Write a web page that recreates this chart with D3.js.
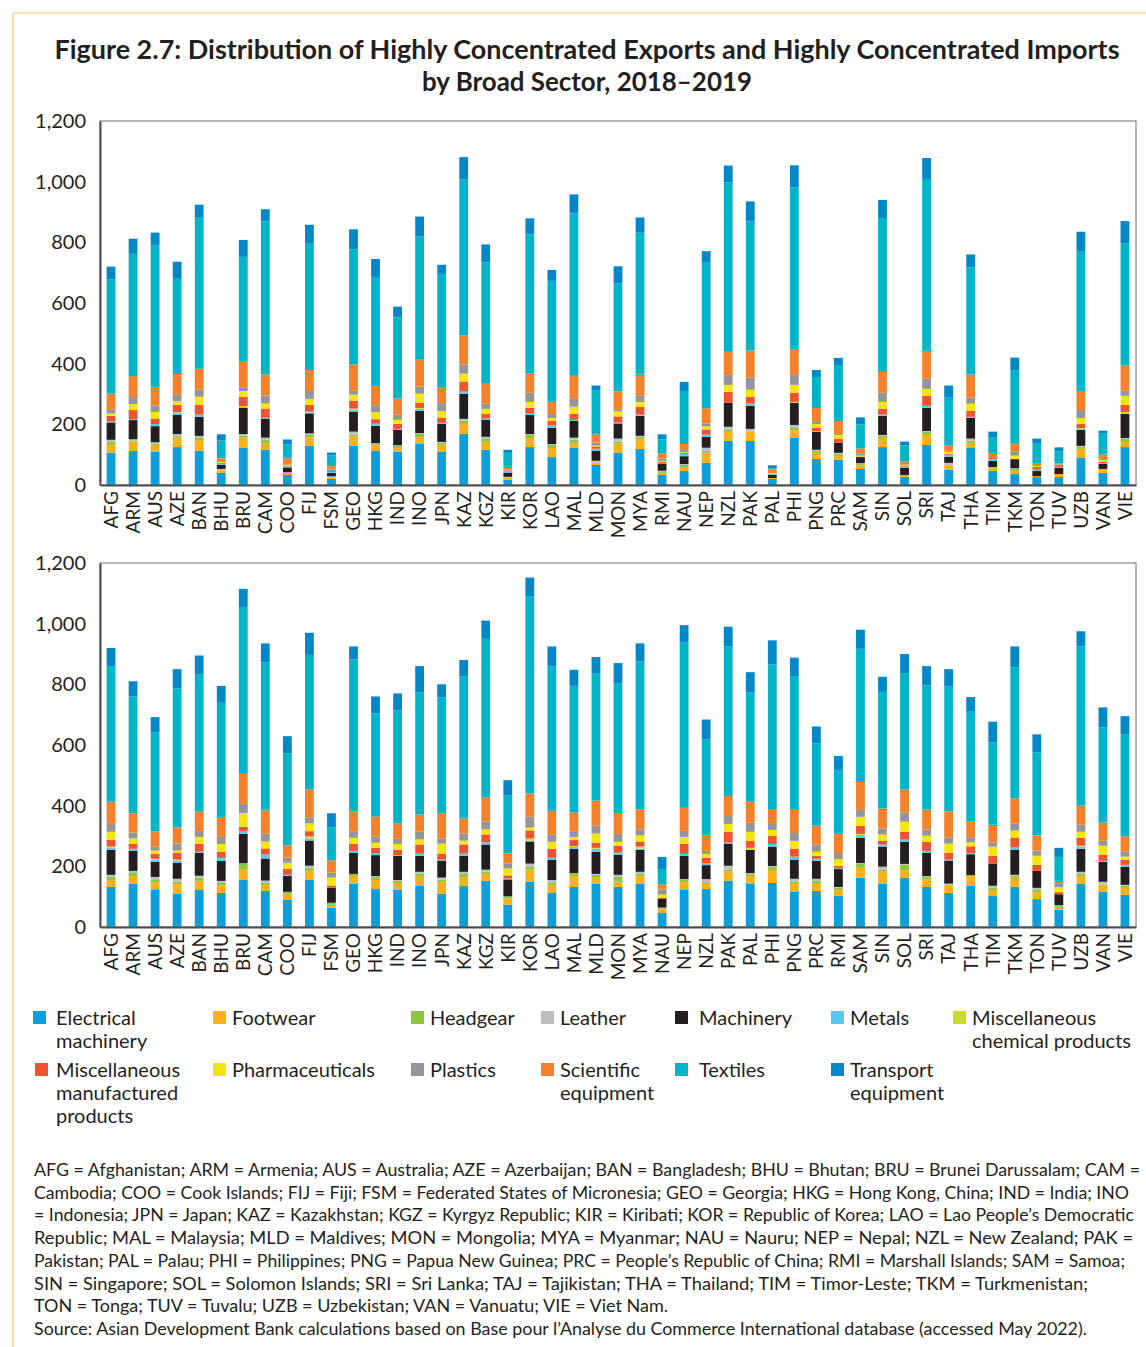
<!DOCTYPE html>
<html><head><meta charset="utf-8">
<script src="https://cdn.jsdelivr.net/npm/d3@7"></script>
<style>
body{margin:0;background:#fff}
svg{display:block}
text{font-family:Lato,"Open Sans",sans-serif;fill:#231f20}
</style>
</head><body>
<svg id="chart" width="1146" height="1347"></svg>
<script>
// ---------------- DATA ----------------
const sectors = ["Electrical machinery","Footwear","Headgear","Leather","Machinery","Metals",
  "Miscellaneous chemical products","Miscellaneous manufactured products","Pharmaceuticals",
  "Plastics","Scientific equipment","Textiles","Transport equipment"];
const sectorColors = ["#0b9ed9","#fbb21a","#8dc63f","#bcbec0","#231f20","#5ac8ee","#cbdb2a",
  "#ee5430","#f3e60c","#939598","#f5822a","#00b5c8","#0288c7"];
const yTicks = [0,200,400,600,800,1000,1200];

const topCategories = ["AFG","ARM","AUS","AZE","BAN","BHU","BRU","CAM","COO","FIJ","FSM","GEO","HKG","IND","INO","JPN","KAZ","KGZ","KIR","KOR","LAO","MAL","MLD","MON","MYA","RMI","NAU","NEP","NZL","PAK","PAL","PHI","PNG","PRC","SAM","SIN","SOL","SRI","TAJ","THA","TIM","TKM","TON","TUV","UZB","VAN","VIE"];
const bottomCategories = ["AFG","ARM","AUS","AZE","BAN","BHU","BRU","CAM","COO","FIJ","FSM","GEO","HKG","IND","INO","JPN","KAZ","KGZ","KIR","KOR","LAO","MAL","MLD","MON","MYA","NAU","NEP","NZL","PAK","PAL","PHI","PNG","PRC","RMI","SAM","SIN","SOL","SRI","TAJ","THA","TIM","TKM","TON","TUV","UZB","VAN","VIE"];

// Top panel (highly concentrated exports)
const topElectrical = [107,112,109,125,112,40,122,116,33,129,20,129,112,109,135,109,168,116,17,125,92,122,66,106,119,33,46,73,145,145,20,155,86,83,53,125,26,132,50,122,46,36,26,26,89,40,125];
const topFootwear   = [25,31,23,31,36,8,34,20,3,28,4,30,20,13,23,23,33,26,8,30,30,17,7,30,33,7,13,33,30,30,3,26,20,13,13,30,7,33,13,17,10,10,3,10,30,13,17];
const topHeadgear   = [10,3,5,5,7,2,7,13,4,9,2,7,3,7,11,7,10,10,2,10,10,10,0,7,7,5,7,7,7,0,0,7,7,7,3,7,0,10,0,7,0,7,0,0,7,0,10];
const topLeather    = [7,5,4,7,7,3,5,7,2,4,3,10,3,2,2,3,7,7,0,3,3,7,7,10,3,2,3,10,10,10,0,10,3,3,3,3,0,3,10,7,3,2,0,0,3,0,3];
const topMachinery  = [57,63,53,63,63,14,86,63,16,66,11,66,57,51,73,59,83,56,14,63,53,56,33,50,66,24,26,36,79,76,10,73,59,33,20,63,23,76,20,69,20,30,17,20,53,17,79];
const topMetals     = [3,3,7,7,7,3,3,3,3,4,3,7,7,3,7,4,7,4,7,4,8,3,7,3,4,2,7,7,0,7,3,0,3,0,0,4,3,7,7,3,7,0,7,2,3,3,0];
const topMiscChem   = [0,0,0,2,0,0,3,0,0,2,0,3,0,0,3,0,0,0,0,0,0,0,0,0,0,0,0,0,0,0,0,3,0,0,0,0,0,0,0,0,0,0,0,0,3,0,7];
const topMiscManuf  = [19,30,18,24,33,3,30,30,3,22,3,26,15,17,17,17,33,15,3,19,15,20,7,20,25,4,3,17,36,23,0,30,10,13,2,20,3,33,3,20,3,2,7,7,13,3,23];
const topPharma     = [8,20,22,13,26,3,20,17,2,20,0,20,23,13,30,22,26,17,0,20,10,23,3,17,17,3,3,10,23,23,3,26,13,13,3,22,3,23,7,23,0,10,3,0,20,7,30];
const topPlastics   = [14,23,21,20,23,0,10,26,2,26,5,13,23,17,23,26,30,17,0,30,13,26,10,7,20,7,7,10,33,40,0,33,7,3,7,30,2,33,3,20,0,13,0,3,26,0,17];
const topScientific = [51,69,62,69,69,12,89,69,20,69,11,86,63,53,89,53,96,66,9,63,40,76,26,59,69,17,20,50,76,89,13,83,46,43,17,69,10,92,17,76,17,26,10,3,63,17,83];
const topTextiles   = [376,403,465,314,498,59,343,505,46,419,35,380,360,267,406,373,515,400,46,459,399,535,145,356,469,46,175,482,558,426,3,535,102,182,79,507,53,567,158,353,50,241,63,40,459,69,403];
const topTransport  = [43,50,43,56,43,20,56,40,16,60,10,66,59,36,66,30,73,59,10,53,36,63,17,56,50,17,30,36,56,66,10,73,23,26,23,60,13,69,40,43,20,43,17,13,66,10,73];

// Bottom panel (highly concentrated imports)
const bottomElectrical = [132,142,122,109,122,112,155,119,89,155,63,142,125,122,135,109,135,152,74,149,112,132,142,132,142,46,122,125,152,142,145,116,119,102,162,142,162,132,112,135,102,132,92,56,142,116,106];
const bottomFootwear   = [23,26,26,33,30,26,36,20,20,30,10,26,30,23,33,40,30,23,20,40,26,36,20,20,26,13,26,20,30,26,43,26,23,20,33,40,26,26,26,33,20,30,23,10,26,23,23];
const bottomHeadgear   = [10,10,7,7,10,7,17,7,7,10,7,7,10,7,7,7,10,7,7,10,7,10,10,13,7,3,7,3,7,7,10,7,10,7,13,7,17,7,2,3,7,7,7,3,7,0,7];
const bottomLeather    = [7,7,10,10,7,7,2,7,0,7,0,0,3,3,7,7,7,7,0,10,10,0,3,7,7,2,3,10,13,3,3,10,7,3,3,10,3,3,3,0,7,3,7,3,7,10,3];
const bottomMachinery  = [83,66,50,53,76,66,97,73,53,83,50,69,69,79,53,56,53,83,56,73,66,79,73,66,73,30,76,46,73,76,63,63,59,59,83,66,73,76,76,69,73,83,56,36,76,66,59];
const bottomMetals     = [7,7,7,7,3,10,10,13,3,7,0,7,7,3,7,3,7,7,3,3,7,7,10,7,3,0,7,7,3,0,10,10,7,3,10,7,7,7,3,3,0,7,0,0,7,3,7];
const bottomMiscChem   = [3,0,3,3,0,0,0,0,0,7,0,0,0,0,0,0,0,0,0,7,0,3,3,0,7,0,0,0,0,7,0,0,0,0,3,0,0,0,0,0,0,0,0,0,3,0,0];
const bottomMiscManuf  = [23,17,17,23,26,20,13,20,20,17,7,23,17,17,30,20,30,26,10,26,30,20,17,23,17,3,33,17,36,23,26,26,10,7,26,13,26,30,23,23,26,33,20,7,26,20,17];
const bottomPharma     = [26,17,10,7,23,26,46,23,20,26,26,20,17,20,17,33,13,17,23,10,23,10,30,13,20,10,23,13,26,30,20,26,13,23,30,20,33,20,30,13,30,23,30,17,20,30,10];
const bottomPlastics   = [26,20,13,23,20,23,30,26,17,20,17,20,20,17,26,17,23,26,17,36,23,17,26,26,20,17,20,10,26,30,23,26,23,20,23,20,30,20,20,17,13,23,17,10,23,17,17];
const bottomScientific = [73,63,50,53,63,66,99,76,40,92,40,69,66,50,56,83,50,79,33,76,79,63,83,69,66,17,76,53,66,69,46,79,63,63,92,66,76,66,86,53,59,83,50,10,63,59,50];
const bottomTextiles   = [447,385,327,459,452,376,550,488,304,443,109,499,340,373,403,382,469,523,191,649,476,418,420,428,487,50,546,314,492,361,477,436,271,211,439,384,384,410,413,363,271,432,274,79,525,314,337];
const bottomTransport  = [60,50,50,63,63,56,60,63,56,73,46,43,56,56,86,43,53,60,50,63,66,53,53,66,60,40,56,66,66,66,79,63,56,46,63,50,63,63,56,46,69,69,59,30,50,66,59];

const titleLines = ["Figure 2.7: Distribution of Highly Concentrated Exports and Highly Concentrated Imports",
                    "by Broad Sector, 2018–2019"];
const noteLines = [
 "AFG = Afghanistan; ARM = Armenia; AUS = Australia; AZE = Azerbaijan; BAN = Bangladesh; BHU = Bhutan; BRU = Brunei Darussalam; CAM =",
 "Cambodia; COO = Cook Islands; FIJ = Fiji; FSM = Federated States of Micronesia; GEO = Georgia; HKG = Hong Kong, China; IND = India; INO",
 "= Indonesia; JPN = Japan; KAZ = Kazakhstan; KGZ = Kyrgyz Republic; KIR = Kiribati; KOR = Republic of Korea; LAO = Lao People’s Democratic",
 "Republic; MAL = Malaysia; MLD = Maldives; MON = Mongolia; MYA = Myanmar; NAU = Nauru; NEP = Nepal; NZL = New Zealand; PAK =",
 "Pakistan; PAL = Palau; PHI = Philippines; PNG = Papua New Guinea; PRC = People’s Republic of China; RMI = Marshall Islands; SAM = Samoa;",
 "SIN = Singapore; SOL = Solomon Islands; SRI = Sri Lanka; TAJ = Tajikistan; THA = Thailand; TIM = Timor-Leste; TKM = Turkmenistan;",
 "TON = Tonga; TUV = Tuvalu; UZB = Uzbekistan; VAN = Vanuatu; VIE = Viet Nam.",
 "Source: Asian Development Bank calculations based on Base pour l’Analyse du Commerce International database (accessed May 2022)."
];

// ---------------- DRAW ----------------
const svg = d3.select("#chart");
const W = 1146;

// outer frame lines
svg.append("line").attr("x1",13).attr("x2",W).attr("y1",13).attr("y2",13).attr("stroke","#f8c46a").attr("stroke-width",1.2);
svg.append("line").attr("x1",13).attr("x2",13).attr("y1",13).attr("y2",1347).attr("stroke","#f8c46a").attr("stroke-width",1.2);

// title
const titleWidths = [1065, 330];
svg.selectAll("text.title").data(titleLines).join("text")
  .attr("class","title")
  .attr("x",587).attr("y",(d,i)=>59+i*32)
  .attr("text-anchor","middle")
  .attr("textLength",(d,i)=>titleWidths[i]).attr("lengthAdjust","spacingAndGlyphs")
  .style("font-size","26px").style("font-weight","700")
  .text(d=>d);

function drawPanel(cats, seriesList, top, bottom) {
  const left = 100, right = 1136;
  const x = d3.scaleBand().domain(cats).range([left,right]).paddingInner(0.6).paddingOuter(0.3);
  const y = d3.scaleLinear().domain([0,1200]).range([bottom,top]);
  const rows = cats.map((c,i)=>{ const o={cat:c}; sectors.forEach((s,k)=>o[s]=seriesList[k][i]); return o; });
  const stacked = d3.stack().keys(sectors)(rows);
  const g = svg.append("g");
  g.append("rect").attr("x",left).attr("y",top).attr("width",right-left).attr("height",bottom-top)
    .attr("fill","none").attr("stroke","#6d6e71").attr("stroke-width",1);
  g.selectAll("g.layer").data(stacked).join("g")
    .attr("fill",(d,i)=>sectorColors[i])
    .selectAll("rect").data(d=>d).join("rect")
    .attr("x",d=>x(d.data.cat)).attr("width",x.bandwidth())
    .attr("y",d=>y(d[1])).attr("height",d=>Math.max(0,y(d[0])-y(d[1])));
  const ya = g.append("g").attr("transform",`translate(${left},0)`)
    .call(d3.axisLeft(y).tickValues(yTicks).tickSize(0).tickPadding(14).tickFormat(d3.format(",")));
  ya.select(".domain").attr("stroke","#4d4d4f").attr("stroke-width",2);
  ya.selectAll("text").style("font-size","20px").style("font-family","Lato, sans-serif").attr("fill","#231f20");
  const xa = g.append("g").attr("transform",`translate(0,${bottom})`)
    .call(d3.axisBottom(x).tickSize(0).tickPadding(0));
  xa.select(".domain").attr("stroke","#4d4d4f").attr("stroke-width",2);
  xa.selectAll("text")
    .attr("transform","translate(0,6) rotate(-90)")
    .attr("text-anchor","end").attr("x",0).attr("y",0).attr("dy","0.36em")
    .style("font-size","19px").style("font-family","Lato, sans-serif").attr("fill","#231f20");
}

drawPanel(topCategories,
  [topElectrical,topFootwear,topHeadgear,topLeather,topMachinery,topMetals,topMiscChem,topMiscManuf,topPharma,topPlastics,topScientific,topTextiles,topTransport],
  121, 485);
drawPanel(bottomCategories,
  [bottomElectrical,bottomFootwear,bottomHeadgear,bottomLeather,bottomMachinery,bottomMetals,bottomMiscChem,bottomMiscManuf,bottomPharma,bottomPlastics,bottomScientific,bottomTextiles,bottomTransport],
  563, 927);

// legend
const legendLines = [["Electrical","machinery"],["Footwear"],["Headgear"],["Leather"],["Machinery"],["Metals"],
  ["Miscellaneous","chemical products"],["Miscellaneous","manufactured","products"],["Pharmaceuticals"],["Plastics"],
  ["Scientific","equipment"],["Textiles"],["Transport","equipment"]];
const legX = [33,213,411,541,675,831,953];
const lg = svg.append("g");
sectors.forEach((s,i)=>{
  const row = i<7?0:1, col = i<7?i:i-7;
  const sx = legX[col] + (i===7?2:0), sy = row===0?1011:1063;
  lg.append("rect").attr("x",sx).attr("y",sy).attr("width",13).attr("height",13).attr("fill",sectorColors[i]);
  const tx = legX[col]+(col===0?23:19)+(col===4?5:0);
  const t = lg.append("text").attr("x",tx).attr("y",sy+13.5)
    .style("font-size","20px").attr("fill","#231f20");
  legendLines[i].forEach((ln,k)=>t.append("tspan").attr("x",tx).attr("dy",k?23:0).text(ln));
});

// notes
const noteEnds = [1140,1129,1134,1133,1125,1088,668,1087];
svg.selectAll("text.note").data(noteLines).join("text")
  .attr("class","note").attr("x",34).attr("y",(d,i)=>1176+i*22.7)
  .style("font-size","16.5px").attr("fill","#231f20")
  .attr("textLength",(d,i)=>noteEnds[i]-34).attr("lengthAdjust","spacingAndGlyphs")
  .text(d=>d);
</script>
</body></html>
